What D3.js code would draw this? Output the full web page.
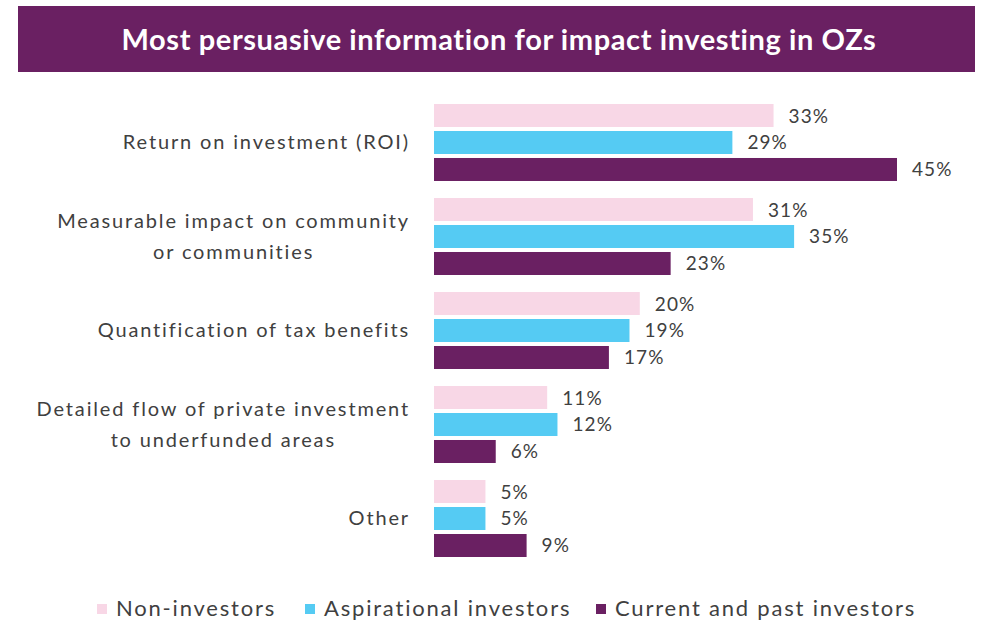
<!DOCTYPE html>
<html>
<head>
<meta charset="utf-8">
<script src="https://cdn.jsdelivr.net/npm/d3@7"></script>
<style>
  body { margin: 0; background: #fff; }
  text { font-family: Lato, "Open Sans", sans-serif; fill: #404040; }
</style>
</head>
<body>
<div id="chart"></div>
<script>
// data
var categories = [
    ["Return on investment (ROI)"],
    ["Measurable impact on community", "or communities"],
    ["Quantification of tax benefits"],
    ["Detailed flow of private investment", "to underfunded areas"],
    ["Other"]
];
var seriesNames = ["Non-investors", "Aspirational investors", "Current and past investors"];
var nonInvestors = [33, 31, 20, 11, 5];
var aspirational = [29, 35, 19, 12, 5];
var currentPast = [45, 23, 17, 6, 9];
var colors = ["#f8d7e6", "#55cbf3", "#6a2062"];

var W = 983, H = 621;
var svg = d3.select("#chart").append("svg")
    .attr("width", W)
    .attr("height", H);

// title band
svg.append("rect")
    .attr("x", 18).attr("y", 6)
    .attr("width", 957).attr("height", 66)
    .attr("fill", "#6a2062");

svg.append("text")
    .attr("x", 499).attr("y", 50)
    .attr("text-anchor", "middle")
    .style("fill", "#fff")
    .style("font-size", "29px")
    .style("font-weight", "bold")
    .style("letter-spacing", "0.6px")
    .text("Most persuasive information for impact investing in OZs");

var series = [nonInvestors, aspirational, currentPast];
var keys = categories.map(function(d){ return d.join(" "); });

var x = d3.scaleLinear().domain([0, 45]).range([434, 897]);
var y0 = d3.scaleBand().domain(keys).range([104, 557]).paddingInner(0.181);
var y1 = d3.scaleBand().domain(seriesNames).range([0, y0.bandwidth()]).paddingInner(0.148);

var groups = svg.selectAll("g.cat")
    .data(categories)
    .enter().append("g")
    .attr("class", "cat")
    .attr("transform", function(d){ return "translate(0," + y0(d.join(" ")) + ")"; });

groups.each(function(cat, i){
    var g = d3.select(this);
    seriesNames.forEach(function(s, j){
        var v = series[j][i];
        g.append("rect")
            .attr("x", x(0))
            .attr("y", y1(s))
            .attr("width", x(v) - x(0))
            .attr("height", y1.bandwidth())
            .attr("fill", colors[j]);
        g.append("text")
            .attr("x", x(v) + 15)
            .attr("y", y1(s) + y1.bandwidth()/2 + 7)
            .style("font-size", "19px")
            .style("letter-spacing", "1.1px")
            .text(v + "%");
    });

    // category label, lines centred as a block, right edge at 408
    var lineH = 31;
    var label = g.append("text")
        .attr("text-anchor", "middle")
        .style("font-size", "20px")
        .style("letter-spacing", "1.85px");
    cat.forEach(function(line, k){
        label.append("tspan")
            .attr("y", y0.bandwidth()/2 + 7 + (k - (cat.length - 1)/2) * lineH)
            .text(line);
    });
    var maxW = 0;
    label.selectAll("tspan").each(function(){
        maxW = Math.max(maxW, this.getComputedTextLength());
    });
    label.selectAll("tspan").attr("x", 410 - maxW/2);
});

// legend
var legendX = [97, 305, 596];
var legend = svg.selectAll("g.legend")
    .data(seriesNames)
    .enter().append("g")
    .attr("class", "legend")
    .attr("transform", function(d, i){ return "translate(" + legendX[i] + ",604)"; });

legend.append("rect")
    .attr("width", 10).attr("height", 10)
    .attr("fill", function(d, i){ return colors[i]; });

legend.append("text")
    .attr("x", 19).attr("y", 12)
    .style("font-size", "22px")
    .style("letter-spacing", "1.8px")
    .text(function(d){ return d; });
</script>
</body>
</html>
